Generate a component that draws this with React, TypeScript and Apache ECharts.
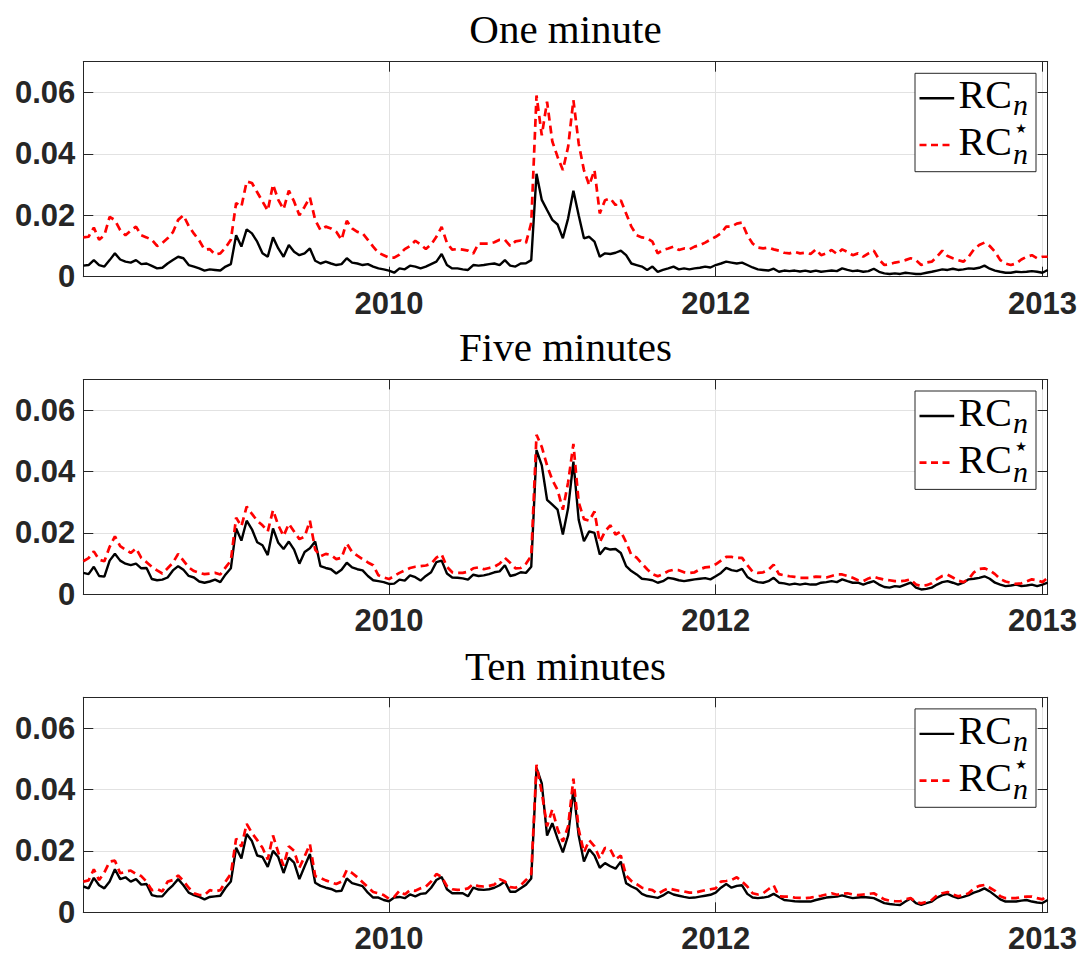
import React, { useEffect, useRef } from 'react';
import * as echarts from 'echarts';

const panelTitles = ['One minute', 'Five minutes', 'Ten minutes'];
const xTickIndex = [58, 120, 182];
const xTickLabels = ['2010', '2012', '2013'];
const yTickLabels = ['0', '0.02', '0.04', '0.06'];

// values in units of 1e-4
const oneMinRC = [
  36,38,54,38,33,54,76,56,49,46,
  54,41,43,35,27,29,43,54,65,60,
  38,33,27,20,24,22,20,33,41,135,
  98,154,141,114,76,65,128,92,65,103,
  81,70,76,92,52,43,49,43,38,41,
  60,46,43,38,41,33,27,24,20,13,
  27,24,36,33,27,33,41,49,74,38,
  27,27,24,22,38,36,38,41,43,38,
  54,36,33,43,44,54,335,250,217,185,
  170,125,190,280,200,125,130,114,65,76,
  74,78,85,70,43,38,33,22,33,16,
  22,27,33,24,27,24,27,29,33,30,
  38,43,49,46,43,46,38,30,24,22,
  20,26,16,20,18,20,17,20,16,20,
  16,18,20,18,27,22,18,20,16,18,
  26,16,11,9,11,9,13,11,9,9,
  13,16,20,24,22,26,22,24,27,26,
  29,36,26,20,16,13,13,16,15,16,
  18,16,13,22,
];
const oneMinRCStar = [
  128,130,160,120,135,195,184,152,135,150,
  163,135,128,120,100,110,125,145,185,200,
  165,140,118,88,90,72,76,95,120,240,
  228,310,305,275,245,215,300,250,220,280,
  245,200,228,258,185,152,163,157,146,120,
  182,157,146,141,120,98,78,70,62,62,
  72,90,100,117,105,90,105,130,162,110,
  88,90,88,85,75,108,108,108,112,120,
  120,100,115,118,110,175,590,460,570,440,
  390,347,423,575,434,347,298,347,206,249,
  255,233,249,206,163,135,128,125,114,76,
  87,92,98,87,92,89,98,103,111,121,
  130,141,163,163,173,176,135,108,95,92,
  95,89,85,78,76,81,76,78,74,89,
  70,76,87,74,89,81,70,76,65,76,
  85,56,38,41,46,49,54,60,54,38,
  46,49,65,85,67,60,54,49,65,89,
  103,111,100,81,54,43,38,43,56,65,
  70,60,65,65,
];
const fiveMinRC = [
  70,66,90,60,58,110,132,110,100,95,
  100,85,86,50,46,48,55,78,92,80,
  60,55,42,38,42,48,40,65,85,215,
  175,240,212,170,160,128,215,168,148,172,
  146,100,138,150,172,92,86,82,68,80,
  103,88,82,78,60,46,43,40,34,35,
  48,45,62,56,45,60,72,105,110,68,
  55,54,52,48,64,60,62,66,72,75,
  95,60,64,72,70,90,470,420,308,292,
  276,195,281,432,243,173,205,200,130,151,
  146,148,135,92,76,65,51,49,46,38,
  43,54,51,46,43,46,49,51,53,49,
  59,70,86,79,76,83,57,46,40,38,
  43,54,38,36,32,35,32,35,32,32,
  38,40,43,40,49,43,38,38,32,38,
  43,32,24,22,27,25,32,38,22,16,
  18,22,32,40,43,38,32,38,49,51,
  54,59,51,38,32,27,29,32,27,29,
  32,27,32,38,
];
const fiveMinRCStar = [
  108,118,140,113,108,155,189,157,146,135,
  150,119,105,90,78,68,85,103,132,110,
  88,76,70,66,68,70,65,88,110,250,
  222,286,262,240,225,205,274,225,190,230,
  205,180,188,240,146,124,132,128,115,119,
  166,138,126,115,104,95,62,55,50,60,
  70,78,86,90,92,94,100,120,130,90,
  72,70,70,74,85,88,82,86,90,100,
  119,103,85,86,100,125,520,480,420,373,
  340,276,365,490,300,245,240,270,170,205,
  225,195,205,170,128,120,100,82,66,59,
  66,76,80,79,72,70,72,82,88,90,
  98,110,122,122,119,119,95,74,70,72,
  80,97,66,62,59,57,54,54,54,58,
  57,55,60,65,65,60,54,46,43,52,
  58,52,48,46,43,43,45,49,32,27,
  30,36,50,60,64,55,45,40,50,72,
  83,85,78,66,50,42,38,34,36,42,
  49,46,40,54,
];
const tenMinRC = [
  84,78,112,88,78,100,140,108,114,100,
  108,90,92,56,52,52,72,88,108,88,
  64,56,50,42,50,52,54,80,100,210,
  175,255,232,185,180,148,200,180,128,178,
  162,108,150,190,96,86,80,76,68,70,
  110,95,90,85,64,48,48,40,36,48,
  50,46,58,52,60,62,80,105,115,75,
  62,62,62,52,80,74,73,75,80,88,
  100,67,67,78,90,110,470,420,250,290,
  240,195,250,400,250,165,205,185,145,160,
  150,142,165,95,84,76,60,53,50,47,
  55,66,58,54,50,47,48,51,54,57,
  64,80,92,80,86,88,60,48,46,48,
  51,60,50,40,38,36,35,35,35,40,
  44,48,50,51,55,50,46,48,50,48,
  46,38,30,27,25,24,35,45,30,24,
  30,35,48,56,60,52,46,50,56,64,
  70,78,68,55,42,35,35,35,38,40,
  35,32,30,40,
];
const tenMinRCStar = [
  100,104,140,105,130,165,168,127,132,136,
  125,118,100,72,76,68,100,105,120,102,
  80,62,56,56,72,68,72,100,125,240,
  214,288,258,235,210,172,250,195,152,215,
  200,145,182,222,118,112,104,98,92,100,
  138,128,114,98,82,66,62,56,44,50,
  70,58,72,70,78,84,100,125,115,85,
  75,73,74,78,92,85,84,86,90,108,
  100,82,80,88,105,125,480,390,280,335,
  270,230,280,435,270,195,235,215,175,210,
  205,172,185,120,102,92,80,76,72,60,
  70,78,74,70,68,64,64,68,72,75,
  78,100,102,105,114,100,84,62,58,62,
  75,88,52,51,51,48,47,46,48,51,
  54,58,62,57,60,62,58,56,58,60,
  62,52,42,38,36,36,42,46,34,29,
  34,40,55,62,66,58,52,56,62,78,
  86,89,80,70,52,46,46,46,50,51,
  51,46,42,56,
];

const panelSeries = [
  [oneMinRC, oneMinRCStar],
  [fiveMinRC, fiveMinRCStar],
  [tenMinRC, tenMinRCStar],
];

const AXIS = '#262626';
const GRID = '#e2e2e2';
const PLOT_LEFT = 83.3;
const PLOT_W = 964.4;
const PLOT_H = 215;
const TOPS = [61.7, 379.4, 697.3];
const TITLE_Y = [29.2, 347.2, 665.5];

export default function App() {
  const ref = useRef<HTMLDivElement>(null);
  useEffect(() => {
    const chart = echarts.init(ref.current!, null, { renderer: 'svg' });
    const cats = oneMinRC.map((_, i) => String(i));
    const isTick = (index: number) => xTickIndex.includes(index);
    const xLabel = (value: string) => {
      const p = xTickIndex.indexOf(Number(value));
      return p >= 0 ? xTickLabels[p] : '';
    };
    const yLabel = (v: number) => {
      const k = Math.round(v / 0.02);
      if (Math.abs(v - k * 0.02) > 1e-9 || k >= yTickLabels.length) return '';
      return yTickLabels[k];
    };
    const labelFont = {
      color: AXIS,
      fontFamily: 'Liberation Sans',
      fontWeight: 'bold' as const,
      fontSize: 31,
    };

    const grid: any[] = [];
    const xAxis: any[] = [];
    const yAxis: any[] = [];
    const series: any[] = [];
    const graphic: any[] = [];

    TOPS.forEach((T, i) => {
      grid.push({ left: PLOT_LEFT, top: T, width: PLOT_W, height: PLOT_H, show: false });
      xAxis.push({
        type: 'category', gridIndex: i, data: cats, boundaryGap: false, position: 'bottom', z: 1,
        axisLine: { show: true, onZero: false, lineStyle: { color: AXIS, width: 1 } },
        axisTick: { show: true, inside: true, length: 10, interval: isTick, lineStyle: { color: AXIS } },
        axisLabel: { show: true, interval: isTick, formatter: xLabel, margin: 11, ...labelFont },
        splitLine: { show: true, interval: isTick, lineStyle: { color: GRID, width: 1 } },
      });
      xAxis.push({
        type: 'category', gridIndex: i, data: cats, boundaryGap: false, position: 'top', z: 1,
        axisLine: { show: true, onZero: false, lineStyle: { color: AXIS, width: 1 } },
        axisTick: { show: true, inside: true, length: 10, interval: isTick, lineStyle: { color: AXIS } },
        axisLabel: { show: false },
        splitLine: { show: false },
      });
      yAxis.push({
        type: 'value', gridIndex: i, min: 0, max: 0.07, interval: 0.02, position: 'left', z: 0,
        axisLine: { show: true, onZero: false, lineStyle: { color: AXIS, width: 1 } },
        axisTick: { show: true, inside: true, length: 10, lineStyle: { color: AXIS } },
        axisLabel: { show: true, formatter: yLabel, margin: 8, ...labelFont },
        splitLine: { show: true, lineStyle: { color: GRID, width: 1 } },
      });
      yAxis.push({
        type: 'value', gridIndex: i, min: 0, max: 0.07, interval: 0.02, position: 'right', z: 1,
        axisLine: { show: true, onZero: false, lineStyle: { color: AXIS, width: 1 } },
        axisTick: { show: true, inside: true, length: 10, lineStyle: { color: AXIS } },
        axisLabel: { show: false },
        splitLine: { show: false },
      });
      const [rc, rcStar] = panelSeries[i];
      series.push({
        name: 'RC_n', type: 'line', xAxisIndex: 2 * i, yAxisIndex: 2 * i,
        data: rc.map((v) => v / 1e4), showSymbol: false, symbol: 'none', silent: true, z: 2,
        lineStyle: { color: '#000000', width: 2.4 },
      });
      series.push({
        name: 'RC*_n', type: 'line', xAxisIndex: 2 * i, yAxisIndex: 2 * i,
        data: rcStar.map((v) => v / 1e4), showSymbol: false, symbol: 'none', silent: true, z: 3,
        lineStyle: { color: '#ff0000', width: 2.7, type: [8, 5] },
      });

      // title
      graphic.push({
        type: 'text', x: PLOT_LEFT + PLOT_W / 2, y: TITLE_Y[i], z: 10,
        style: { text: panelTitles[i], fill: '#000', fontFamily: 'Liberation Serif', fontSize: 41, align: 'center', verticalAlign: 'middle' },
      });
      // legend
      graphic.push({
        type: 'rect', z: 10, shape: { x: 915, y: T + 11.6, width: 121, height: 98.4 },
        style: { fill: '#ffffff', stroke: AXIS, lineWidth: 1 },
      });
      graphic.push({
        type: 'line', z: 11, shape: { x1: 919.5, y1: T + 36.6, x2: 954.2, y2: T + 36.6 },
        style: { stroke: '#000', lineWidth: 2.4 },
      });
      graphic.push({
        type: 'line', z: 11, shape: { x1: 919.5, y1: T + 83.3, x2: 949.5, y2: T + 83.3 },
        style: { stroke: '#ff0000', lineWidth: 2.7, lineDash: [7, 4.5] },
      });
      graphic.push({
        type: 'text', x: 958.5, y: T + 33.1, z: 11,
        style: { text: 'RC', fill: '#000', fontFamily: 'Liberation Serif', fontSize: 40, align: 'left', verticalAlign: 'middle' },
      });
      graphic.push({
        type: 'text', x: 1013, y: T + 43.2, z: 11,
        style: { text: 'n', fill: '#000', fontFamily: 'Liberation Serif', fontStyle: 'italic', fontSize: 30, align: 'left', verticalAlign: 'middle' },
      });
      graphic.push({
        type: 'text', x: 958.5, y: T + 79.8, z: 11,
        style: { text: 'RC', fill: '#000', fontFamily: 'Liberation Serif', fontSize: 40, align: 'left', verticalAlign: 'middle' },
      });
      graphic.push({
        type: 'text', x: 1021, y: T + 66.8, z: 11,
        style: { text: '\u2605', fill: '#000', fontFamily: 'DejaVu Sans', fontSize: 13, align: 'center', verticalAlign: 'middle' },
      });
      graphic.push({
        type: 'text', x: 1013, y: T + 91.6, z: 11,
        style: { text: 'n', fill: '#000', fontFamily: 'Liberation Serif', fontStyle: 'italic', fontSize: 30, align: 'left', verticalAlign: 'middle' },
      });
    });

    chart.setOption({
      animation: false,
      backgroundColor: '#ffffff',
      grid, xAxis, yAxis, series, graphic,
    });
    return () => chart.dispose();
  }, []);
  return (
    <div
      ref={ref}
      style={{ position: 'fixed', left: 0, top: 0, width: 1083, height: 956, background: '#fff' }}
    />
  );
}
